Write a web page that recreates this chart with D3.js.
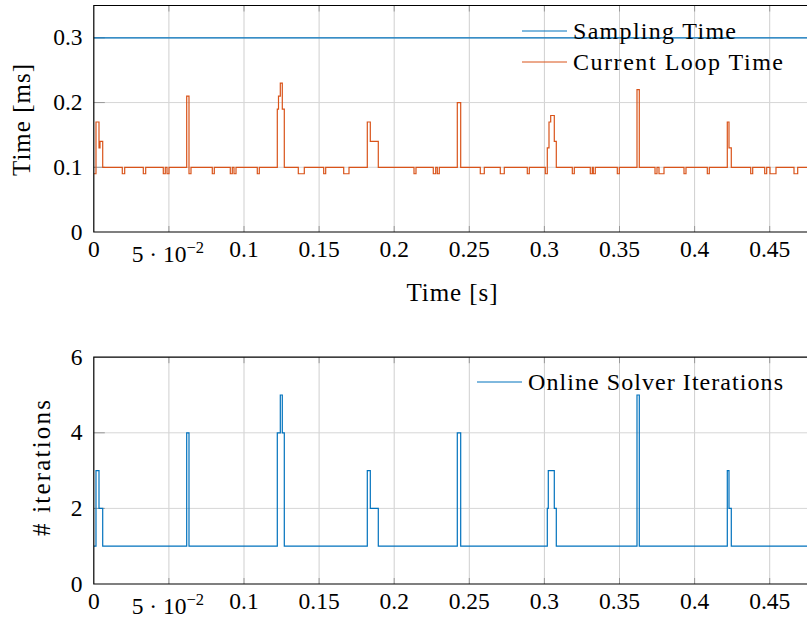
<!DOCTYPE html>
<html>
<head>
<meta charset="utf-8">
<script src="https://cdn.jsdelivr.net/npm/d3@7"></script>
<style>
  body { margin: 0; background: #fff; }
  svg { display: block; font-family: "Liberation Serif", serif; }
  .tick-label { font-size: 23.5px; fill: #000; }
  .axis-title { font-size: 25px; fill: #000; }
  .legend-text { font-size: 24px; fill: #000; }
</style>
</head>
<body>
<svg id="chart"></svg>
<script>
// step change times [s] and values after each change
const loopTimes = [0, 0.00146, 0.00346, 0.00413, 0.00593, 0.01897, 0.02057, 0.03296, 0.03455,
  0.04627, 0.0476, 0.04874, 0.05007, 0.06185, 0.06338, 0.06471, 0.07889, 0.08023, 0.09088,
  0.09221, 0.09334, 0.09468, 0.10885, 0.11019, 0.12217, 0.12297, 0.12417, 0.1255, 0.12683,
  0.13615, 0.14015, 0.15306, 0.15439, 0.16638, 0.16991, 0.18209, 0.18409, 0.18941, 0.21318,
  0.21451, 0.22603, 0.22763, 0.2287, 0.23003, 0.24201, 0.24427, 0.25732, 0.25999, 0.27064,
  0.2733, 0.28861, 0.28995, 0.3006, 0.30193, 0.30306, 0.30419, 0.30659, 0.30792, 0.31858,
  0.31991, 0.33056, 0.33189, 0.33256, 0.33389, 0.34854, 0.34987, 0.36165, 0.36318, 0.37364,
  0.37497, 0.3763, 0.37963, 0.39294, 0.39427, 0.40846, 0.40979, 0.42177, 0.4229, 0.42443,
  0.43735, 0.43868, 0.44667, 0.448, 0.4502, 0.45419, 0.46618, 0.46864];
const loopValues = [0.09, 0.17, 0.13, 0.14, 0.1, 0.09, 0.1, 0.09, 0.1,
  0.09, 0.1, 0.09, 0.1, 0.21, 0.09, 0.1, 0.09, 0.1, 0.09,
  0.1, 0.09, 0.1, 0.09, 0.1, 0.19, 0.21, 0.23, 0.19, 0.1,
  0.09, 0.1, 0.09, 0.1, 0.09, 0.1, 0.17, 0.14, 0.1, 0.09,
  0.1, 0.09, 0.1, 0.09, 0.1, 0.2, 0.1, 0.09, 0.1, 0.09,
  0.1, 0.09, 0.1, 0.09, 0.13, 0.17, 0.18, 0.14, 0.1, 0.09,
  0.1, 0.09, 0.1, 0.09, 0.1, 0.09, 0.1, 0.22, 0.1, 0.09,
  0.1, 0.09, 0.1, 0.09, 0.1, 0.09, 0.1, 0.17, 0.13, 0.1,
  0.09, 0.1, 0.09, 0.1, 0.09, 0.1, 0.09, 0.1];
const samplingTime = 0.3;

const iterTimes = [0, 0.00146, 0.00346, 0.00593, 0.06185, 0.06338, 0.12217, 0.12417, 0.1255,
  0.12683, 0.18209, 0.18409, 0.18941, 0.24201, 0.24427, 0.30193, 0.30259, 0.30659, 0.30792,
  0.36165, 0.36318, 0.42177, 0.4229, 0.42443];
const iterValues = [1, 3, 2, 1, 4, 1, 4, 5, 4,
  1, 3, 2, 1, 4, 1, 2, 3, 2, 1,
  5, 1, 3, 2, 1];

const xTicks = [0, 0.05, 0.1, 0.15, 0.2, 0.25, 0.3, 0.35, 0.4, 0.45];
const xTickLabels = ['0', '5e-2', '0.1', '0.15', '0.2', '0.25', '0.3', '0.35', '0.4', '0.45'];
const topYTicks = [0, 0.1, 0.2, 0.3];
const bottomYTicks = [0, 2, 4, 6];

const blue = '#0072bd';
const orange = '#d95319';

const W = 807, H = 618;
const xEnd = 0.48;
const svg = d3.select('#chart').attr('width', W).attr('height', H);

const x = d3.scaleLinear().domain([0, xEnd]).range([93.8, 93.8 + xEnd * 1502]);

function stepPoints(ts, vs) {
  const pts = ts.map((t, i) => [t, vs[i]]);
  pts.push([xEnd, vs[vs.length - 1]]);
  return pts;
}

function panel(cfg) {
  const y = d3.scaleLinear().domain(cfg.yDomain).range([cfg.bottom, cfg.top]);
  const g = svg.append('g');
  const clipId = 'clip' + cfg.id;
  svg.append('clipPath').attr('id', clipId)
    .append('rect').attr('x', x(0)).attr('y', cfg.top)
    .attr('width', x(xEnd) - x(0)).attr('height', cfg.bottom - cfg.top);

  const innerY = cfg.yTicks.filter(d => d > cfg.yDomain[0] && d < cfg.yDomain[1]);

  // grid
  g.selectAll('.gx').data(xTicks.slice(1)).enter().append('line')
    .attr('x1', d => x(d)).attr('x2', d => x(d))
    .attr('y1', cfg.top).attr('y2', cfg.bottom)
    .attr('stroke', '#cfcfcf').attr('stroke-width', 1);
  g.selectAll('.gy').data(innerY).enter().append('line')
    .attr('x1', x(0)).attr('x2', x(xEnd))
    .attr('y1', d => y(d)).attr('y2', d => y(d))
    .attr('stroke', '#d6d6d6').attr('stroke-width', 1);

  // tick marks
  g.selectAll('.ty').data(innerY).enter().append('line')
    .attr('x1', x(0)).attr('x2', x(0) + 11)
    .attr('y1', d => y(d)).attr('y2', d => y(d))
    .attr('stroke', '#999').attr('stroke-width', 1);
  g.selectAll('.txb').data(xTicks.slice(1)).enter().append('line')
    .attr('x1', d => x(d)).attr('x2', d => x(d))
    .attr('y1', cfg.bottom).attr('y2', cfg.bottom - 6)
    .attr('stroke', '#999').attr('stroke-width', 1);
  g.selectAll('.txt').data(xTicks.slice(1)).enter().append('line')
    .attr('x1', d => x(d)).attr('x2', d => x(d))
    .attr('y1', cfg.top).attr('y2', cfg.top + 6)
    .attr('stroke', '#999').attr('stroke-width', 1);

  const plot = g.append('g').attr('clip-path', `url(#${clipId})`);
  cfg.series.forEach(s => {
    plot.append('path')
      .datum(stepPoints(s.t, s.v))
      .attr('fill', 'none')
      .attr('stroke', s.color)
      .attr('stroke-width', 1.2)
      .attr('d', d3.line().curve(d3.curveStepAfter).x(d => x(d[0])).y(d => y(d[1])));
  });

  // frame
  g.append('path')
    .attr('d', `M${x(xEnd)},${cfg.top}H${x(0)}V${cfg.bottom}H${x(xEnd)}`)
    .attr('fill', 'none').attr('stroke', '#000').attr('stroke-width', 1.2);

  // y labels
  g.selectAll('.yl').data(cfg.yTicks).enter().append('text')
    .attr('class', 'tick-label')
    .attr('x', 82.5).attr('y', d => y(d) + 7.5)
    .attr('text-anchor', 'end')
    .text(d => String(d));

  // x labels
  xTicks.forEach((t, i) => {
    const lab = xTickLabels[i];
    const tx = g.append('text').attr('class', 'tick-label')
      .attr('x', x(t)).attr('text-anchor', 'middle');
    if (lab === '5e-2') {
      tx.attr('y', cfg.bottom + 30).attr('x', x(t) - 1);
      tx.append('tspan').text('5 · 10');
      tx.append('tspan').attr('dy', -9).attr('font-size', '16.5px').text('−2');
    } else {
      tx.attr('y', cfg.bottom + 24.5).text(lab);
    }
  });

  // legend
  cfg.legend.forEach((l, i) => {
    const ly = cfg.legendY + i * 31;
    g.append('line').attr('x1', cfg.legendX).attr('x2', cfg.legendX + 45)
      .attr('y1', ly).attr('y2', ly)
      .attr('stroke', l.color).attr('stroke-width', 1);
    g.append('text').attr('class', 'legend-text')
      .attr('x', cfg.legendX + 51).attr('y', ly + 7.5)
      .attr('textLength', l.width).attr('lengthAdjust', 'spacing')
      .text(l.label);
  });

  g.append('text').attr('class', 'axis-title')
    .attr('transform', `translate(${cfg.yTitleX},${cfg.yTitleY}) rotate(-90)`)
    .attr('text-anchor', 'middle')
    .attr('textLength', cfg.yTitleWidth).attr('lengthAdjust', 'spacing')
    .text(cfg.yTitle);
}

panel({
  id: 'top', top: 5.5, bottom: 232, yDomain: [0, 0.35], yTicks: topYTicks,
  series: [
    { t: [0], v: [samplingTime], color: blue },
    { t: loopTimes, v: loopValues, color: orange }
  ],
  legend: [
    { label: 'Sampling Time', color: blue, width: 163 },
    { label: 'Current Loop Time', color: orange, width: 210 }
  ],
  legendX: 522, legendY: 31,
  yTitle: 'Time [ms]', yTitleX: 30, yTitleY: 120, yTitleWidth: 112
});

panel({
  id: 'bot', top: 357.2, bottom: 584, yDomain: [0, 6], yTicks: bottomYTicks,
  series: [{ t: iterTimes, v: iterValues, color: blue }],
  legend: [{ label: 'Online Solver Iterations', color: blue, width: 255 }],
  legendX: 477, legendY: 382,
  yTitle: '# iterations', yTitleX: 50, yTitleY: 468, yTitleWidth: 136
});

svg.append('text').attr('class', 'axis-title')
  .attr('x', 452).attr('y', 301).attr('text-anchor', 'middle')
  .attr('textLength', 91).attr('lengthAdjust', 'spacing')
  .text('Time [s]');
</script>
</body>
</html>
